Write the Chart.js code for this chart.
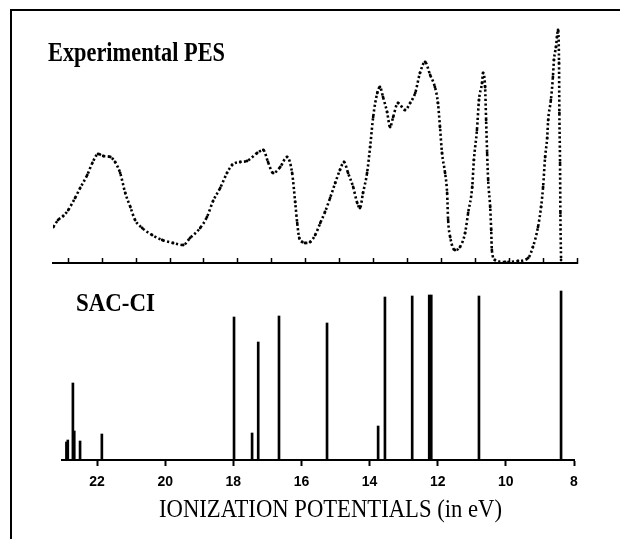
<!DOCTYPE html>
<html>
<head>
<meta charset="utf-8">
<title>Experimental PES vs SAC-CI</title>
<script src="https://cdn.jsdelivr.net/npm/chart.js@4.4.1/dist/chart.umd.min.js"></script>
<style>
  html, body { margin: 0; padding: 0; background: #fff; }
  #page  { position: relative; width: 620px; height: 539px; overflow: hidden; }
  #frame { position: absolute; left: 10px; top: 9px; width: 620px; height: 540px;
           border-top: 2px solid #000; border-left: 2px solid #000; }
  canvas { position: absolute; left: 0; top: 0; }
  .lbl   { position: absolute; font-family: 'Liberation Serif', 'Times New Roman', serif;
           line-height: 1; white-space: nowrap; transform-origin: 0 0; color: #000; }
</style>
</head>
<body>
<div id="page">
  <div id="frame"></div>
  <canvas id="pesChart" width="620" height="539"></canvas>
  <canvas id="sacChart" width="620" height="539"></canvas>
  <div class="lbl" data-w="177" style="left:48px;top:39px;font-size:27px;font-weight:bold">Experimental PES</div>
  <div class="lbl" data-w="79"  style="left:76px;top:290px;font-size:26px;font-weight:bold">SAC-CI</div>
  <div class="lbl" data-w="343" style="left:159px;top:496px;font-size:26px">IONIZATION POTENTIALS (in eV)</div>
</div>
<script>
/* ── Experimental photoelectron spectrum (eV, arbitrary intensity) ── */
const pesEnergy = [
  23.44, 23.30, 23.15, 23.00, 22.80, 22.65, 22.44, 22.29, 22.12, 21.97,
  21.76, 21.62, 21.47, 21.32, 21.17, 21.03, 20.82, 20.53, 20.23, 19.91,
  19.61, 19.41, 19.11, 18.91, 18.73, 18.52, 18.32, 18.17, 17.93, 17.73,
  17.43, 17.25, 17.11, 16.96, 16.75, 16.55, 16.40, 16.31, 16.25, 16.19,
  16.10, 16.02, 15.87, 15.72, 15.57, 15.43, 15.28, 15.13, 14.99, 14.87,
  14.75, 14.60, 14.48, 14.40, 14.31, 14.19, 14.10, 14.01, 13.89, 13.81,
  13.72, 13.60, 13.51, 13.42, 13.28, 13.07, 12.92, 12.77, 12.63, 12.48,
  12.33, 12.19, 12.10, 12.04, 11.98, 11.89, 11.83, 11.80, 11.74, 11.60,
  11.45, 11.30, 11.21, 11.09, 11.04, 10.95, 10.89, 10.80, 10.77, 10.71,
  10.68, 10.65, 10.62, 10.56, 10.53, 10.51, 10.42, 10.12,  9.74,  9.44,
   9.30,  9.15,  9.06,  9.00,  8.94,  8.88,  8.85,  8.77,  8.71,  8.68,
   8.62,  8.59,  8.56,  8.53,  8.52,  8.50,  8.49,  8.47,
];
const pesIntensity = [
   36,  43,  47,  53,  65,  75,  88, 100, 109, 107,
  106, 101,  90,  70,  56,  43,  35,  28,  23,  20,
   18,  25,  35,  46,  62,  75,  90,  98, 101, 102,
  110, 113, 101,  90,  96, 106,  90,  61,  40,  25,
   21,  20,  21,  28,  40,  51,  65,  80,  93, 101,
   90,  76,  60,  55,  70,  90, 116, 146, 170, 176,
  166, 151, 136, 146, 160, 153, 160, 170, 190, 201,
  188, 176, 160, 136, 110,  90,  70,  43,  26,  13,
   16,  30,  50,  76, 103, 133, 163, 180, 190, 176,
  143, 110,  83,  56,  33,  13,   3,   1,   2,   5,
   16,  36,  56,  76, 106, 125, 143, 163, 186, 203,
  216, 226, 233, 200, 150, 100,  50,   3,
];

/* ── SAC-CI ionization states (eV, relative intensity) ── */
const sacEnergy    = [22.90, 22.86, 22.71, 22.67, 22.50, 21.86, 17.98, 17.45, 17.27, 16.66,
                      15.25, 13.75, 13.55, 12.75, 12.25, 12.19, 10.79,  8.38];
const sacIntensity = [   18,    20,    77,    29,    19,    26,   143,    27,   118,   144,
                        137,    34,   163,   164,   165,   165,   164,   169];

/* ── Axis ranges ── */
const pesRange = { min: 8, max: 23.45, step: 1 };
const sacRange = { min: 8, max: 23.03, step: 2 };

const INK = '#000';

/* ── Top panel: dotted PES trace ── */
new Chart(document.getElementById('pesChart'), {
  type: 'line',
  data: {
    datasets: [{
      data: pesEnergy.map((e, i) => ({ x: e, y: pesIntensity[i] })),
      borderColor: INK, borderWidth: 2.6, borderDash: [2.2, 2.4],
      pointRadius: 1.4, pointBackgroundColor: INK, pointBorderWidth: 0,
      cubicInterpolationMode: 'monotone', fill: false,
    }],
  },
  options: {
    responsive: false, animation: false,
    layout: { padding: { left: 53, right: 43, top: 20, bottom: 266 } },
    plugins: { legend: { display: false }, tooltip: { enabled: false } },
    scales: {
      x: {
        type: 'linear', reverse: true, min: pesRange.min, max: pesRange.max,
        afterFit: s => { s.height = 10; },
        border: { color: INK, width: 2 },
        grid: { drawOnChartArea: false, tickLength: -5, tickWidth: 1.5, tickColor: INK },
        ticks: { display: false, stepSize: pesRange.step, includeBounds: false },
      },
      y: { display: false, min: 0, max: 243 },
    },
  },
});

/* ── Bottom panel: SAC-CI stick spectrum ── */
new Chart(document.getElementById('sacChart'), {
  type: 'bar',
  data: {
    datasets: [{
      data: sacEnergy.map((e, i) => ({ x: e, y: sacIntensity[i] })),
      backgroundColor: INK, barThickness: 2,
    }],
  },
  options: {
    responsive: false, animation: false,
    layout: { padding: { left: 62, right: 46, top: 280, bottom: 39 } },
    plugins: { legend: { display: false }, tooltip: { enabled: false } },
    scales: {
      x: {
        type: 'linear', reverse: true, offset: false,
        min: sacRange.min, max: sacRange.max,
        afterFit: s => { s.height = 40; },
        border: { color: INK, width: 2 },
        grid: { offset: false, drawOnChartArea: false, tickLength: 6, tickWidth: 2, tickColor: INK },
        ticks: {
          stepSize: sacRange.step, includeBounds: false, maxRotation: 0, padding: 8,
          color: INK, font: { family: "'Liberation Sans', Arial, sans-serif", size: 14, weight: 'bold' },
        },
      },
      y: { display: false, min: 0, max: 180 },
    },
  },
});

/* ── squeeze serif labels to the reference widths ── */
document.querySelectorAll('.lbl').forEach(el => {
  const w = el.getBoundingClientRect().width;
  el.style.transform = `scaleX(${el.dataset.w / w})`;
});
</script>
</body>
</html>
